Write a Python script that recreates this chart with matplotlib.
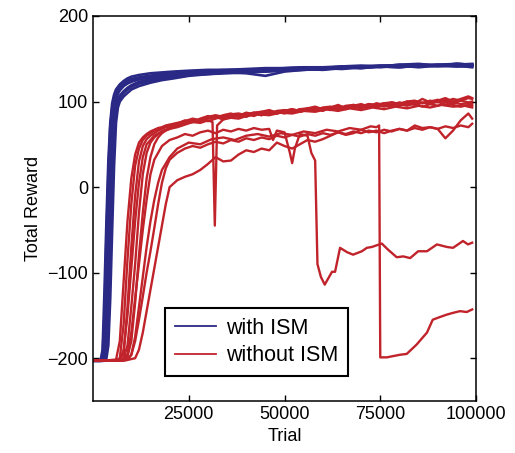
import matplotlib
matplotlib.use('Agg')
import matplotlib.pyplot as plt
from matplotlib.lines import Line2D

plt.rcParams['font.family'] = ['Liberation Sans', 'DejaVu Sans']

# with ISM runs (shared trial grid)
blue_x = [0, 2000, 2500, 3000, 3500, 4000, 4500, 5000, 5500, 6000, 6500, 7000, 8000, 9000, 10000,
          12000, 15000, 18000, 21000, 25000, 30000, 35000, 40000, 45000, 50000, 55000, 60000,
          65000, 70000, 75000, 80000, 85000, 90000, 95000, 99000]
blue1 = [-203, -202, -190, -120, -40, 30, 75, 98, 108, 114, 117, 120, 124, 127, 129, 131, 133, 134, 135, 136,
         137, 137, 138, 139, 139, 140, 140, 141, 141, 142, 142, 143, 142, 144, 143]
blue2 = [-203, -203, -200, -170, -100, -20, 50, 85, 100, 108, 112, 116, 121, 124, 126, 128, 130, 132, 134, 135,
         136, 137, 137, 138, 139, 140, 139, 141, 142, 141, 143, 144, 142, 143, 144]
blue3 = [-203, -203, -202, -195, -150, -70, 10, 65, 92, 103, 109, 113, 118, 121, 123, 126, 129, 131, 132, 133,
         134, 135, 136, 137, 136, 138, 139, 138, 140, 141, 140, 142, 143, 142, 141]
blue4 = [-203, -203, -203, -200, -185, -120, -40, 35, 80, 97, 103, 107, 112, 116, 119, 123, 126, 128, 130, 132,
         133, 134, 136, 135, 137, 138, 138, 139, 140, 142, 141, 141, 143, 144, 143]
blue5 = [-203, -203, -203, -202, -195, -160, -90, -10, 60, 88, 98, 104, 110, 114, 117, 121, 124, 127, 129, 131,
         132, 133, 134, 135, 136, 137, 138, 140, 139, 141, 142, 140, 142, 141, 142]
blue6 = [-203, -203, -203, -203, -200, -185, -130, -50, 25, 75, 93, 100, 106, 110, 114, 118, 122, 125, 127, 130,
         132, 134, 133, 130, 135, 137, 138, 139, 141, 140, 142, 143, 142, 144, 143]
blue7 = [-203, -202, -195, -150, -60, 15, 70, 92, 104, 112, 116, 119, 122, 124, 126, 128, 130, 132, 133, 134,
         135, 136, 137, 137, 138, 139, 139, 140, 139, 141, 143, 142, 141, 142, 140]
blue8 = [-203, -203, -201, -185, -130, -50, 25, 75, 96, 106, 111, 115, 119, 122, 124, 126, 128, 130, 131, 132,
         133, 134, 135, 136, 137, 138, 137, 139, 140, 141, 140, 142, 143, 141, 142]

# without ISM runs (shared trial grid)
red_x = [0, 6000, 7000, 8000, 9000, 10000, 11000, 12000, 13000, 14000, 15000, 16000, 17000, 18000, 19000, 20000,
         22000, 24000, 26000, 28000, 30000, 32000, 34000, 36000, 38000, 40000, 42000, 44000, 46000, 48000,
         50000, 52000, 54000, 56000, 58000, 60000, 62000, 64000, 66000, 68000, 70000, 72000, 74000, 76000,
         78000, 80000, 82000, 84000, 86000, 88000, 90000, 92000, 94000, 96000, 98000, 99000]
red1 = [-203, -202, -180, -110, -40, 10, 38, 52, 58, 62, 65, 67, 69, 70, 72, 73,
        75, 77, 80, 78, 82, 84, 82, 85, 86, 84, 87, 88, 86, 89, 90, 88, 91, 92, 90, 93, 94, 92, 95, 96,
        94, 97, 96, 98, 99, 97, 100, 101, 98, 100, 102, 100, 103, 101, 104, 103]
red2 = [-203, -202, -200, -160, -85, -20, 25, 45, 55, 60, 63, 66, 68, 69, 71, 72,
        74, 78, 76, 80, 83, 81, 84, 86, 83, 87, 85, 88, 90, 87, 89, 91, 89, 92, 94, 91, 93, 95, 92, 96,
        94, 97, 95, 98, 96, 99, 97, 100, 98, 101, 99, 102, 98, 101, 99, 100]
red3 = [-203, -202, -201, -195, -140, -70, -10, 30, 48, 56, 60, 63, 66, 68, 70, 71,
        73, 76, 79, 77, 81, 83, 80, 84, 82, 85, 87, 84, 88, 86, 89, 91, 88, 90, 92, 89, 93, 91, 94, 92,
        95, 93, 96, 94, 97, 95, 98, 96, 99, 97, 100, 96, 99, 97, 98, 97]
red4 = [-203, -203, -202, -200, -185, -140, -90, -30, 15, 40, 52, 58, 62, 65, 67, 69,
        71, 74, 77, 79, 77, 80, 83, 81, 84, 86, 83, 87, 85, 88, 86, 90, 88, 91, 89, 92, 90, 93, 91, 94,
        92, 95, 93, 96, 94, 97, 95, 98, 94, 97, 95, 99, 96, 94, 96, 95]
red5 = [-203, -203, -202, -201, -198, -180, -135, -80, -30, 10, 35, 50, 58, 63, 66, 68,
        70, 73, 76, 78, 80, 82, 79, 83, 85, 82, 86, 84, 88, 86, 89, 87, 91, 89, 92, 90, 93, 96, 92, 95,
        97, 94, 98, 96, 99, 97, 100, 98, 103, 99, 101, 104, 100, 103, 106, 104]
red6 = [-203, -203, -203, -202, -202, -201, -200, -190, -170, -145, -120, -95, -70, -45, -20, 0,
        8, 12, 15, 20, 27, 35, 30, 31, 38, 43, 41, 45, 43, 52, 48, 45, 50, 55, 53, 56, 60, 64, 61, 63,
        67, 64, 66, 63, 66, 68, 66, 72, 69, 70, 68, 57, 66, 78, 86, 80]
red7 = [-203, -203, -203, -202, -201, -196, -180, -155, -128, -100, -75, -48, -20, 5, 22, 32,
        40, 45, 48, 46, 50, 53, 51, 55, 53, 57, 55, 58, 56, 60, 58, 61, 59, 62, 60, 63, 61, 64, 62, 65,
        63, 66, 64, 67, 65, 68, 66, 69, 67, 70, 68, 71, 69, 72, 70, 74]

# run with a short dip near 32000
spike_x = [0, 6000, 7000, 8000, 9000, 10000, 11000, 12000, 13000, 14000, 16000, 18000, 20000, 22000, 24000,
           26000, 28000, 30000, 31200, 31800, 32400, 34000, 36000, 38000, 40000, 43000, 46000, 49000, 52000,
           55000, 58000, 61000, 64000, 67000, 70000, 73000, 76000, 79000, 82000, 85000, 88000, 91000, 94000,
           97000, 99000]
spike_y = [-203, -203, -202, -190, -150, -95, -40, 5, 35, 50, 60, 65, 68, 72, 74, 76, 75, 78, 76, -45, 72,
           79, 81, 80, 83, 85, 84, 87, 86, 89, 88, 91, 89, 92, 90, 93, 91, 94, 92, 95, 93, 96, 94, 95, 93]

# run that collapses near 58500
drop1_x = [0, 6000, 8000, 9000, 10000, 11000, 12000, 13000, 14000, 15000, 16000, 18000, 20000, 22000, 24000,
           26000, 28000, 30000, 32000, 34000, 36000, 38000, 40000, 42000, 44000, 46000, 47000, 48000, 50000,
           51400, 52000, 52700, 54000, 56000, 57000, 58000, 58600, 59500, 60500, 62400, 63200, 64500, 66300,
           67900, 70200, 71500, 72800, 75400, 77000, 79300, 81000, 82800, 84900, 87200, 89800, 92400, 94000,
           96600, 97900, 99000]
drop1_y = [-203, -203, -202, -195, -170, -130, -90, -50, -15, 15, 32, 48, 55, 58, 62, 60, 64, 66, 63, 67,
           65, 68, 66, 69, 67, 68, 55, 66, 64, 40, 28, 45, 62, 60, 40, 31, -90, -105, -114, -99, -99, -71,
           -76, -79, -75, -71, -70, -66, -73, -82, -81, -83, -75, -75, -67, -70, -71, -63, -67, -65]

# run that collapses near 74700
drop2_x = [0, 6000, 8000, 9000, 10000, 11000, 12000, 13000, 14000, 15000, 16000, 17000, 18000, 20000, 22000,
           25000, 28000, 31000, 34000, 37000, 40000, 43000, 46000, 49000, 52000, 55000, 58000, 61000, 64000,
           67000, 70000, 72500, 74000, 74700, 75000, 76700, 80100, 81900, 84500, 87200, 88700, 90500, 92400,
           94000, 95800, 97600, 99000]
drop2_y = [-203, -203, -203, -202, -196, -175, -140, -105, -70, -40, -15, 5, 20, 35, 45, 52, 50, 56, 58, 55,
           60, 62, 59, 63, 61, 65, 63, 67, 65, 69, 67, 71, 70, 72, -199, -199, -196, -195, -184, -170, -155,
           -152, -149, -147, -145, -146, -143]

blue = '#2a2985'
red = '#c1232b'

fig = plt.figure(figsize=(5.15, 4.53), dpi=100)
ax = fig.add_axes([0.1806, 0.1148, 0.7437, 0.85])

for y in [blue1, blue2, blue3, blue4, blue5, blue6, blue7, blue8]:
    ax.plot(blue_x, y, color=blue, lw=1.9)
for y in [red1, red2, red3, red4, red5, red6, red7]:
    ax.plot(red_x, y, color=red, lw=1.7)
ax.plot(spike_x, spike_y, color=red, lw=1.7)
ax.plot(drop1_x, drop1_y, color=red, lw=1.7)
ax.plot(drop2_x, drop2_y, color=red, lw=1.7)

ax.set_xlim(0, 100000)
ax.set_ylim(-250, 200)
ax.set_xticks([25000, 50000, 75000, 100000])
ax.set_yticks([-200, -100, 0, 100, 200])
ax.tick_params(direction='in', top=True, right=True, length=4, labelsize=13, width=1)
for s in ax.spines.values():
    s.set_linewidth(1.1)
ax.set_xlabel('Trial', fontsize=13)
ax.set_ylabel('Total Reward', fontsize=13)

handles = [Line2D([], [], color=blue, lw=1.3), Line2D([], [], color=red, lw=1.3)]
leg = ax.legend(handles, ['with ISM', 'without ISM'], loc='lower left', bbox_to_anchor=(0.188, 0.065),
                fontsize=15.5, fancybox=False, framealpha=1, edgecolor='black', borderaxespad=0,
                handlelength=1.9, handletextpad=0.5, labelspacing=0.3, borderpad=0.45)
leg.get_frame().set_linewidth(1.5)

fig.savefig('out.png', dpi=100)
